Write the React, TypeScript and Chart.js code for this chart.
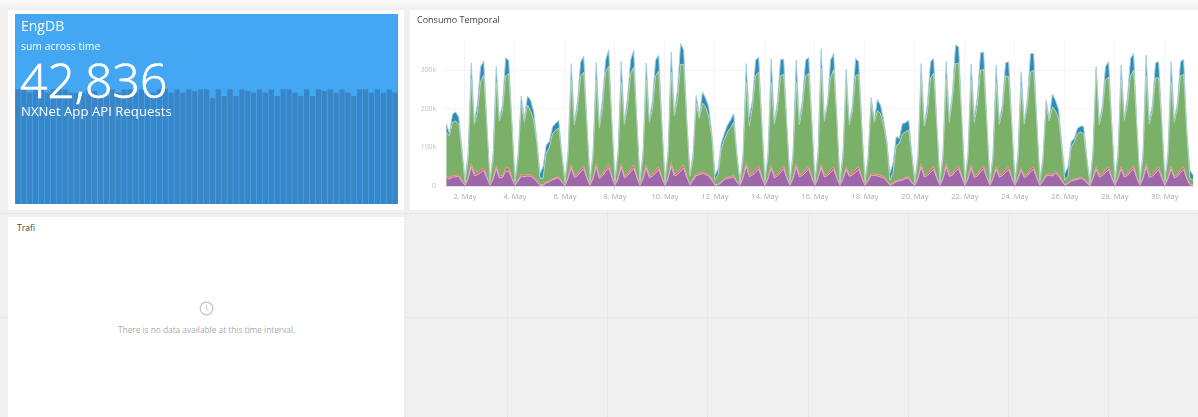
import React, { useEffect, useRef } from "react";
import { Chart, registerables } from "chart.js";

Chart.register(...registerables);

// Hours sampled every 3h, from 1 May 06:00 to 31 May 03:00; each row is one day.
const firstDay = 1.25;
const stepDays = 0.125;

// Upper edge of the whole stack (k requests)
const totalTop = [
  162,136,186,192,178,100,15,
  85,319,166,214,309,324,158,15,
  85,309,175,210,332,325,165,15,
  85,233,175,233,222,192,119,33,
  50,106,115,153,162,170,85,11,
  93,317,166,218,321,336,166,15,
  90,321,158,227,326,353,170,15,
  90,322,166,227,326,352,170,15,
  90,319,170,222,326,339,165,13,
  90,347,188,248,369,352,170,30,
  85,235,181,244,227,205,136,28,
  46,110,136,158,171,188,85,11,
  85,317,179,222,326,334,165,15,
  88,330,166,218,328,328,160,15,
  88,326,172,222,326,333,170,12,
  90,356,175,214,326,343,179,12,
  88,302,162,210,330,322,158,12,
  76,229,170,224,209,170,119,33,
  59,128,123,162,164,171,85,12,
  85,317,158,214,322,330,162,12,
  88,322,175,240,365,360,179,12,
  88,316,179,231,345,347,170,12,
  85,313,170,210,319,322,166,12,
  85,296,166,227,343,343,170,15,
  76,222,175,238,222,197,110,33,
  50,115,123,149,155,155,76,7,
  93,309,166,210,309,322,162,12,
  88,313,179,227,330,343,162,12,
  88,339,170,210,319,322,170,15,
  88,322,175,214,322,328,145,41,
  28,
];

// Upper edge of the green layer
const greenTop = [
  140,130,165,168,160,90,10,
  70,278,160,190,270,288,155,12,
  70,268,168,195,285,291,160,12,
  70,215,165,210,195,170,110,20,
  20,85,100,135,145,150,78,8,
  80,275,158,200,285,295,160,12,
  78,275,150,200,295,310,165,12,
  78,270,160,205,290,308,165,12,
  78,275,165,200,285,298,160,10,
  78,295,182,220,315,315,165,25,
  72,215,175,215,205,180,125,15,
  30,95,120,140,150,165,80,8,
  72,270,155,205,285,295,160,12,
  75,268,160,200,285,290,155,12,
  75,270,158,205,285,292,165,10,
  75,305,168,210,280,302,172,10,
  75,270,158,195,285,290,152,10,
  65,218,165,195,188,158,110,15,
  35,105,110,135,140,145,78,8,
  72,280,155,190,280,292,158,10,
  75,278,165,225,317,318,172,10,
  75,275,165,210,300,302,165,10,
  72,270,160,195,285,283,160,10,
  72,258,160,210,295,300,165,12,
  65,210,168,205,195,175,100,15,
  25,100,115,135,140,135,70,5,
  80,300,158,195,275,282,158,10,
  75,275,170,208,285,300,158,10,
  75,285,160,195,280,280,165,12,
  75,270,165,200,285,290,140,20,
  15,
];

// Upper edge of the red band
const redTop = [
  27,22,27,28,29,15,4,
  22,58,33,35,42,47,24,4,
  20,52,26,26,47,47,22,4,
  16,30,28,30,29,24,14,3,
  4,10,14,19,22,24,12,2,
  24,56,27,32,43,52,24,4,
  22,58,24,31,45,55,26,4,
  22,58,26,32,43,55,26,4,
  22,55,26,31,40,50,24,3,
  24,60,31,36,45,55,26,5,
  18,31,33,37,33,30,18,3,
  5,11,19,23,24,28,12,3,
  24,60,29,34,42,52,24,4,
  22,55,26,31,42,52,24,4,
  22,58,29,33,42,52,24,3,
  24,56,28,32,42,50,24,3,
  22,50,30,34,42,50,24,3,
  16,32,31,30,28,25,15,3,
  8,14,16,18,22,24,10,3,
  22,58,28,32,42,50,24,3,
  22,58,30,33,45,52,26,3,
  22,55,27,31,44,52,25,3,
  22,52,28,32,42,50,24,3,
  22,48,27,32,44,50,24,3,
  16,30,32,30,38,30,16,3,
  8,16,18,20,24,20,10,2,
  24,50,28,32,42,50,24,3,
  22,52,28,32,44,52,24,3,
  22,58,27,31,40,50,24,3,
  22,52,26,30,42,50,22,5,
  3,
];

// Upper edge of the purple layer
const purpleTop = [
  23,18,23,24,25,12,2,
  19,50,27,29,35,40,21,2,
  17,45,21,22,38,39,19,2,
  13,26,24,26,25,20,11,2,
  2,8,11,16,19,21,10,1,
  20,48,22,27,36,45,21,2,
  19,50,19,26,38,47,22,2,
  19,50,21,27,36,47,22,2,
  19,47,21,26,33,43,21,2,
  20,52,26,30,38,47,22,3,
  15,27,29,33,29,26,15,2,
  3,9,16,20,21,24,10,2,
  20,52,24,29,35,45,21,2,
  19,47,21,26,35,45,21,2,
  19,50,24,28,35,45,21,2,
  20,48,23,27,35,43,21,2,
  19,43,25,29,35,43,21,2,
  13,28,27,26,24,21,12,2,
  6,11,13,15,19,21,8,2,
  19,50,23,27,35,43,21,2,
  19,50,25,28,38,45,22,2,
  19,47,22,26,37,45,22,2,
  19,44,23,27,35,43,21,2,
  19,41,22,27,37,43,21,2,
  13,26,28,26,33,26,13,2,
  6,13,15,17,20,17,8,1,
  20,43,23,27,35,43,21,2,
  19,44,23,27,37,45,21,2,
  19,50,22,26,33,43,21,2,
  19,44,21,25,35,43,19,3,
  2,
];

const seriesLabels = ["Morado", "Rojo", "Verde", "Azul"];
const tickFormatLabel = "May";

// Small sparkline behind the big number
const requestBars = [
  700,700,680,700,700,680,700,700,700,680,680,680,700,
  690,647,659,700,680,700,700,680,700,680,680,700,700,
  680,700,680,700,690,700,700,647,700,659,700,659,700,
  690,680,700,680,700,659,700,700,680,659,700,659,700,
  690,700,680,700,680,659,700,700,680,700,680,700,680,
];

const dottedVerticals = [405, 507, 607, 707, 808, 908, 1008, 1108];
const dottedHorizontals = [213, 317];

const FONT = '"Open Sans", "Noto Sans", sans-serif';

const panel = (left: number, top: number, width: number, height: number): React.CSSProperties => ({
  position: "absolute", left, top, width, height, background: "#fff",
});
const text = (left: number, top: number, size: number, color: string, extra: React.CSSProperties = {}): React.CSSProperties => ({
  position: "absolute", left, top, fontSize: size, lineHeight: 1, color, whiteSpace: "nowrap", ...extra,
});

export default function App() {
  const mainRef = useRef<HTMLCanvasElement>(null);
  const barsRef = useRef<HTMLCanvasElement>(null);

  useEffect(() => {
    const xs = totalTop.map((_, i) => firstDay + i * stepDays);
    const toPoints = (vals: number[]) => vals.map((y, i) => ({ x: xs[i], y }));
    const purple = purpleTop;
    const red = redTop.map((v, i) => v - purpleTop[i]);
    const green = greenTop.map((v, i) => v - redTop[i]);
    const blue = totalTop.map((v, i) => v - greenTop[i]);

    const area = (label: string, vals: number[], fill: string, bg: string, border: string) => ({
      label, data: toPoints(vals), fill, backgroundColor: bg, borderColor: border,
      borderWidth: 1, pointRadius: 0, tension: 0,
    });

    const main = new Chart(mainRef.current!, {
      type: "line",
      data: {
        datasets: [
          area(seriesLabels[0], purple, "origin", "#9e67aa", "#d8b4cf"),
          area(seriesLabels[1], red, "-1", "#d9605f", "#e39a90"),
          area(seriesLabels[2], green, "-1", "#7bb069", "#b4d2bd"),
          area(seriesLabels[3], blue, "-1", "#2f8ab4", "#a5cfe3"),
        ] as any,
      },
      options: {
        animation: false,
        responsive: false,
        layout: { padding: { top: 29.3, right: 5, left: 0, bottom: 0 } },
        plugins: { legend: { display: false }, tooltip: { enabled: false } },
        scales: {
          x: {
            type: "linear",
            min: 1.2,
            max: 31.125,
            afterFit: (s: any) => { s.height = 24; },
            border: { color: "#e0e0e0" },
            grid: { color: "#f4f4f4", tickLength: 4, tickColor: "#dcdcdc" },
            ticks: {
              stepSize: 2,
              includeBounds: false,
              autoSkip: false,
              maxRotation: 0,
              padding: 2,
              color: "#ababab",
              font: { family: FONT, size: 7.5 },
              callback: (v: any) => `${v}. ${tickFormatLabel}`,
            },
          },
          y: {
            stacked: true,
            min: 0,
            max: 380,
            afterFit: (s: any) => { s.width = 35; },
            border: { display: false },
            grid: { color: "#f4f4f4", drawTicks: false },
            ticks: {
              stepSize: 100,
              includeBounds: false,
              padding: 9,
              color: "#c0c0c0",
              font: { family: FONT, size: 6.8 },
              callback: (v: any) => (v === 0 ? "0" : `${v}k`),
            },
          },
        },
      },
    });

    const bars = new Chart(barsRef.current!, {
      type: "bar",
      data: {
        labels: requestBars.map((_, i) => String(i + 1)),
        datasets: [{
          data: requestBars,
          backgroundColor: "#3a85c5",
          barPercentage: 0.88,
          categoryPercentage: 1,
        }],
      },
      options: {
        animation: false,
        responsive: false,
        plugins: { legend: { display: false }, tooltip: { enabled: false } },
        scales: {
          x: { display: false },
          y: { display: false, min: 0, max: 1160 },
        },
      },
    });

    return () => { main.destroy(); bars.destroy(); };
  }, []);

  return (
    <div style={{
      position: "fixed", left: 0, top: 0, width: 1198, height: 417, overflow: "hidden",
      background: "#f0f0f0", fontFamily: FONT, filter: "blur(0.45px)",
    }}>
      <div style={{ position: "absolute", left: 0, top: 0, width: 1198, height: 10, background: "linear-gradient(#fafafa,#efefef)" }} />
      {dottedVerticals.map((x) => (
        <div key={x} style={{ position: "absolute", left: x, top: 212, height: 205, borderLeft: "1px dotted #e2e2e2" }} />
      ))}
      {dottedHorizontals.map((y) => (
        <div key={y} style={{ position: "absolute", left: 0, top: y, width: 1198, borderTop: "1px dotted #e2e2e2" }} />
      ))}

      <div style={panel(8, 10, 396, 200)} />
      <div style={{ position: "absolute", left: 15, top: 14, width: 383, height: 190, background: "#43a7f3", overflow: "hidden" }}>
        <canvas ref={barsRef} width={383} height={190} style={{ display: "block" }} />
      </div>
      <div style={text(21, 19, 14, "#fff")}>EngDB</div>
      <div style={text(21, 41, 10.4, "#fff")}>sum across time</div>
      <div style={text(20, 56, 48, "#fff", { fontWeight: 300, WebkitTextStroke: "0.7px #fff" })}>42,836</div>
      <div style={text(21, 105, 13.2, "#fff")}>NXNet App API Requests</div>

      <div style={panel(410, 10, 788, 200)} />
      <canvas ref={mainRef} width={788} height={200} style={{ position: "absolute", left: 410, top: 10 }} />
      <div style={text(417, 15, 9, "#444")}>Consumo Temporal</div>

      <div style={panel(8, 217, 396, 200)} />
      <div style={text(17, 224, 8.6, "#444")}>Trafi</div>
      <svg width="15" height="15" viewBox="0 0 15 15" style={{ position: "absolute", left: 199, top: 301 }}>
        <circle cx="7.5" cy="7.5" r="6.3" fill="none" stroke="#c4c4c4" strokeWidth="1.2" />
        <path d="M7.5 3.8V7.8L9.6 9.6" fill="none" stroke="#c4c4c4" strokeWidth="1" />
      </svg>
      <div style={text(118, 326, 8.3, "#aaaaaa")}>There is no data available at this time interval.</div>
    </div>
  );
}
